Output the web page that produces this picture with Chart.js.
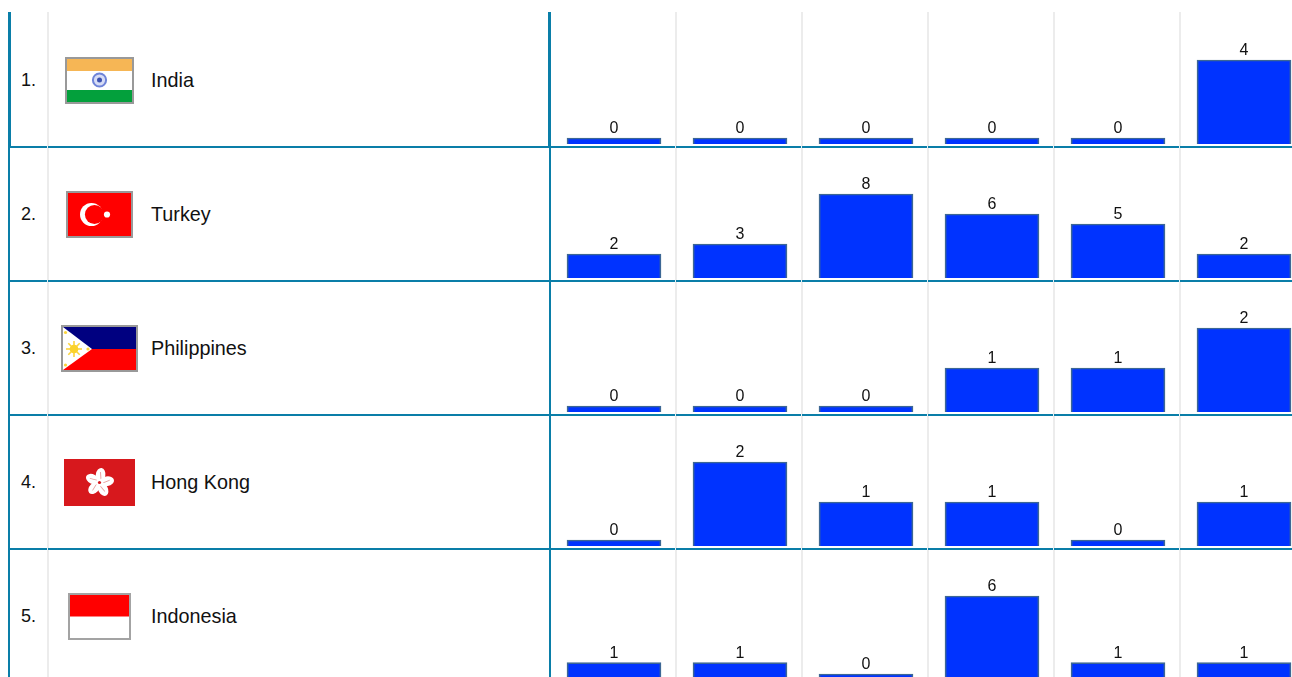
<!DOCTYPE html>
<html><head><meta charset="utf-8">
<script src="https://cdn.jsdelivr.net/npm/chart.js@4"></script>
<style>
html,body{margin:0;padding:0;background:#fff;width:1292px;height:677px;overflow:hidden;font-family:"Liberation Sans",Arial,sans-serif;color:#111}
#page{position:relative;width:1292px;height:677px;overflow:hidden}
.abs{position:absolute}
.h{position:absolute;left:9px;width:1283px;height:2px;background:#0a7ea8}
.v{position:absolute;background:#0a7ea8}
.g{position:absolute;top:12px;width:2px;height:665px;background:#ececec}
.t{position:absolute;line-height:20px;white-space:nowrap}
canvas{position:absolute;left:551px;display:block}
svg{position:absolute;filter:blur(.5px)}
</style></head><body><div id="page"></div>
<script>
const categories = ["1","2","3","4","5","6"];
const countries = ["India","Turkey","Philippines","Hong Kong","Indonesia"];
const indiaValues = [0,0,0,0,0,4];
const turkeyValues = [2,3,8,6,5,2];
const philippinesValues = [0,0,0,1,1,2];
const hongKongValues = [0,2,1,1,0,1];
const indonesiaValues = [1,1,0,6,1,1];
const rowValues = [indiaValues,turkeyValues,philippinesValues,hongKongValues,indonesiaValues];

const ROW_TOP=12, ROW_H=134, CH_H=132;
const page=document.getElementById('page');
function div(cls,css,txt){const d=document.createElement('div');d.className=cls;Object.assign(d.style,css);if(txt)d.textContent=txt;page.appendChild(d);return d;}

[47,675,801,927,1053,1179].forEach(x=>div('g',{left:x+'px'}));
[146,280,414,548].forEach(y=>{
  div('h',{top:y+'px'});
  [47,675,801,927,1053,1179].forEach(x=>div('abs',{left:x+'px',top:y+'px',width:'1px',height:'2px',background:'#e6f2f6'}));
});
div('v',{left:'8px',top:'12px',width:'3px',height:'135px'});
div('v',{left:'8px',top:'147px',width:'2px',height:'530px'});
div('v',{left:'548px',top:'12px',width:'3px',height:'135px'});
div('v',{left:'549px',top:'147px',width:'2px',height:'530px'});

const petal='<ellipse cx="35.5" cy="16" rx="4.8" ry="7.2" fill="#fff"/><line x1="35" y1="13" x2="36.5" y2="20" stroke="#e8a0a0" stroke-width=".9"/>';
const flags=[
 {x:65,y:57,w:69,h:47,s:`<rect width="69" height="47" fill="#999"/><rect x="2" y="2" width="65" height="43" fill="#fff"/><rect x="2" y="2" width="65" height="12" fill="#f6b655"/><rect x="2" y="33" width="65" height="12" fill="#03a03c"/><circle cx="34.5" cy="23" r="6.6" fill="#d6dcf5" stroke="#6f84d8" stroke-width="2"/><circle cx="34.5" cy="23" r="2.5" fill="#3b50b0"/>`},
 {x:66,y:191,w:67,h:47,s:`<rect width="67" height="47" fill="#999"/><rect x="2" y="2" width="63" height="43" fill="#f00"/><circle cx="25.5" cy="23.5" r="11.5" fill="#fff"/><circle cx="28.5" cy="23.5" r="9.6" fill="#f00"/><circle cx="41" cy="23.5" r="3.1" fill="#fff"/>`},
 {x:61,y:325,w:77,h:47,s:`<rect width="77" height="47" fill="#999"/><rect x="2" y="2" width="73" height="22" fill="#000080"/><rect x="2" y="24" width="73" height="21" fill="#f00"/><polygon points="2,2 31,24 2,45" fill="#fff"/><g stroke="#fbd43c" stroke-width="1.6"><line x1="5" y1="24" x2="21" y2="24"/><line x1="13" y1="16" x2="13" y2="32"/><line x1="7.3" y1="18.3" x2="18.7" y2="29.7"/><line x1="18.7" y1="18.3" x2="7.3" y2="29.7"/></g><circle cx="13" cy="24" r="4.3" fill="#fbd22a"/><circle cx="4.5" cy="7.5" r="1.6" fill="#fbd43c"/><circle cx="4.5" cy="40" r="1.6" fill="#fbd43c"/><circle cx="27" cy="24" r="1.6" fill="#fbd43c"/>`},
 {x:64,y:459,w:71,h:47,s:`<rect width="71" height="47" fill="#d7181d"/><g transform="rotate(8 35.5 23.5)">${[0,72,144,216,288].map(a=>`<g transform="rotate(${a} 35.5 23.5)">${petal}</g>`).join('')}</g><circle cx="35.5" cy="23.5" r="1.6" fill="#d7181d"/>`},
 {x:68,y:593,w:63,h:47,s:`<rect width="63" height="47" fill="#a3a3a3"/><rect x="2" y="2" width="59" height="43" fill="#fff"/><rect x="2" y="2" width="59" height="21.5" fill="#f00"/>`}
];
flags.forEach(f=>{
  page.insertAdjacentHTML('beforeend',`<svg style="left:${f.x}px;top:${f.y}px" width="${f.w}" height="${f.h}" viewBox="0 0 ${f.w} ${f.h}">${f.s}</svg>`);
});

const valueLabels={id:'valueLabels',afterDatasetsDraw(chart){
  const ctx=chart.ctx,meta=chart.getDatasetMeta(0),vals=chart.data.datasets[0].data;
  ctx.save();ctx.font='16px "Liberation Sans"';ctx.fillStyle='#111';ctx.textAlign='center';ctx.textBaseline='alphabetic';
  meta.data.forEach((b,i)=>ctx.fillText(String(vals[i]),b.x,b.y-5));
  ctx.restore();
}};

countries.forEach((name,i)=>{
  const top=ROW_TOP+ROW_H*i;
  div('t',{left:'21px',top:(top+58)+'px',fontSize:'18px'},(i+1)+'.');
  div('t',{left:'151px',top:(top+58)+'px',fontSize:'19.8px'},name);
  const c=document.createElement('canvas');
  c.width=756;c.height=CH_H;c.style.top=top+'px';c.style.width='756px';c.style.height=CH_H+'px';
  page.appendChild(c);
  const vals=rowValues[i],mx=Math.max(...vals);
  new Chart(c,{type:'bar',plugins:[valueLabels],
    data:{labels:categories,datasets:[{data:vals,backgroundColor:'#0033ff',borderColor:'#3c6795',borderWidth:1.7,
      barThickness:94,minBarLength:6,base:-mx/20}]},
    options:{responsive:false,animation:false,layout:{padding:0},
      plugins:{legend:{display:false},tooltip:{enabled:false}},
      scales:{x:{display:false},y:{display:false,min:-mx/20,max:mx*1.6}}}});
});
</script></body></html>
